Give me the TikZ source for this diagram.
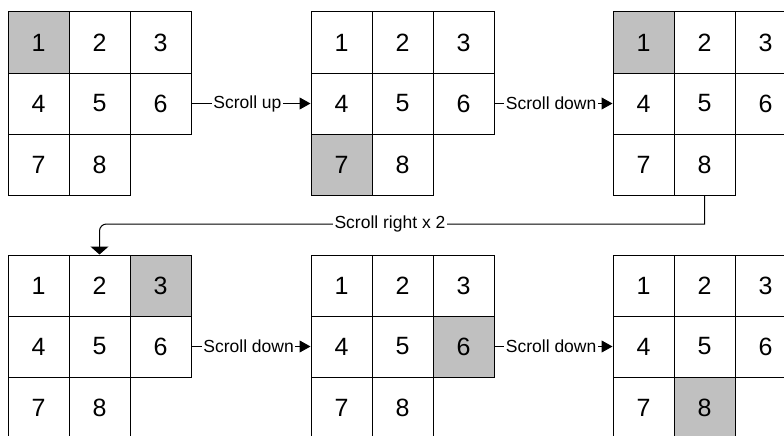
\documentclass[tikz,border=0pt]{standalone}
\usepackage{fontspec}
\setmainfont{Liberation Sans}
\usetikzlibrary{arrows.meta}
\definecolor{shade}{HTML}{C0C0C0}
\tikzset{
  cell/.style={draw=black, line width=1pt, minimum width=61pt, minimum height=61pt,
    inner sep=0pt, font=\fontsize{25}{25}\selectfont},
  conn/.style={draw=black, line width=1pt},
  sidearrow/.style={-{Triangle[length=11pt,width=12pt]}},
  downarrow/.style={-{Triangle[length=8pt,width=18pt]}},
  lbl/.style={fill=white, inner xsep=1.5pt, inner ysep=2pt, font=\fontsize{17.5}{19}\selectfont}
}
\newcommand\mygrid[4]{%
  \foreach \n/\c/\r in {1/0/0,2/1/0,3/2/0,4/0/1,5/1/1,6/2/1,7/0/2,8/1/2}{%
    \ifnum\n=#4\relax\def\myfill{shade}\else\def\myfill{white}\fi
    \node[cell, fill=\myfill] (#1-\n) at ({#2+30.5+61*\c}, {#3+30.5+61*\r}) {\n};
  }}
\begin{document}
\begin{tikzpicture}[x=1pt, y=-1pt]
\useasboundingbox (0,0) rectangle (784,436);
\fill[white] (0,0) rectangle (784,436);
\mygrid{ga}{8}{12}{1}
\mygrid{gb}{311}{12}{7}
\mygrid{gc}{613}{12}{1}
\mygrid{gd}{8}{255}{3}
\mygrid{ge}{311}{255}{6}
\mygrid{gf}{613}{255}{8}
\draw[conn, sidearrow] (ga-6.east) -- node[lbl, pos=0.47] {Scroll up} (gb-4.west);
\draw[conn, sidearrow] (gb-6.east) -- node[lbl, pos=0.48] {Scroll down} (gc-4.west);
\draw[conn, sidearrow] (gd-6.east) -- node[lbl, pos=0.48] {Scroll down} (ge-4.west);
\draw[conn, sidearrow] (ge-6.east) -- node[lbl, pos=0.48] {Scroll down} (gf-4.west);
\coordinate (turn) at (390,224);
\draw[conn, downarrow] (gc-8.south) |- (turn) [rounded corners=7pt] -| (gd-2.north);
\node[lbl] (lr) at (turn) {Scroll right x 2};
\end{tikzpicture}
\end{document}
